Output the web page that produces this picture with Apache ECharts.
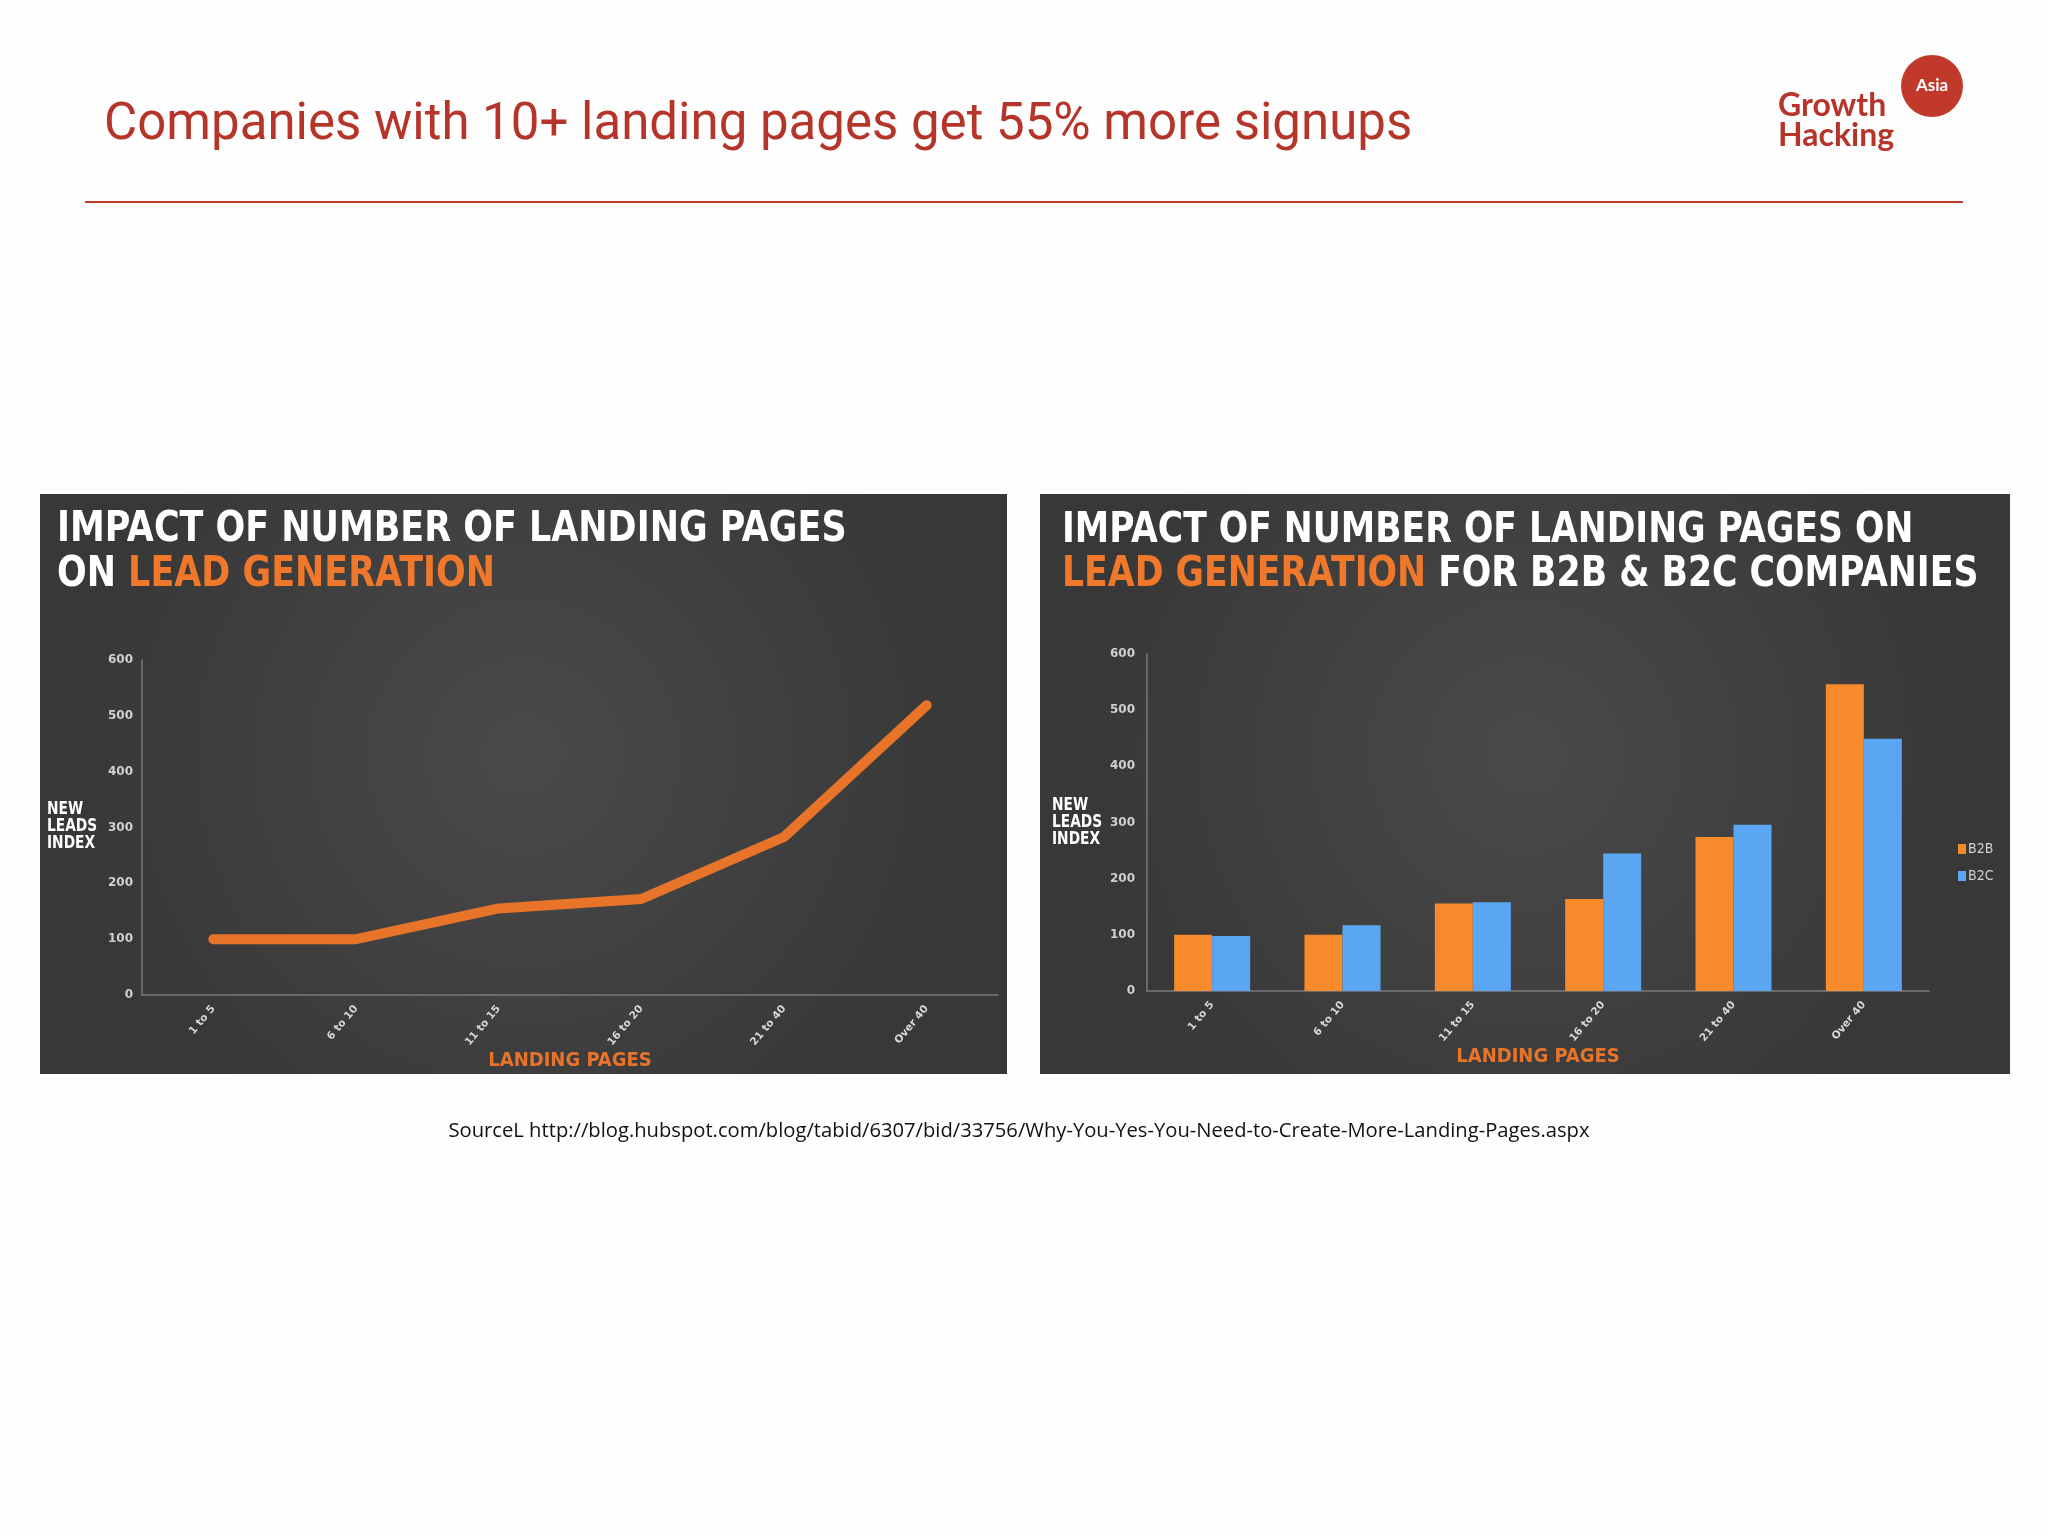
<!DOCTYPE html>
<html>
<head>
<meta charset="utf-8">
<script src="https://cdn.jsdelivr.net/npm/echarts@6/dist/echarts.min.js"></script>
<style>
html,body{margin:0;padding:0;background:#fefefe;}
#main{width:2048px;height:1536px;}
</style>
</head>
<body>
<div id="main"></div>
<script>
const categories = ['1 to 5', '6 to 10', '11 to 15', '16 to 20', '21 to 40', 'Over 40'];
const leadsIndex = [100, 100, 155, 172, 283, 519];
const b2bValues = [100, 100, 156, 164, 274, 546];
const b2cValues = [98, 117, 158, 245, 296, 449];
const yTicks = [0, 100, 200, 300, 400, 500, 600];

const chart = echarts.init(document.getElementById('main'));
const condensed = '"DejaVu Sans Condensed", "DejaVu Sans", sans-serif';
const panelFill = {
  type: 'radial', x: 0.5, y: 0.45, r: 0.75,
  colorStops: [{offset: 0, color: '#4a4a4a'}, {offset: 1, color: '#383838'}]
};
const axisCommon = {
  axisLine: {show: true, lineStyle: {color: '#7a7a7a', width: 1.5}},
  axisTick: {show: false},
  splitLine: {show: false}
};
function yAxis(gi, margin) {
  return Object.assign({}, axisCommon, {
    type: 'value', gridIndex: gi, min: yTicks[0], max: yTicks[yTicks.length - 1], interval: yTicks[1] - yTicks[0],
    axisLabel: {color: '#d0d0d0', fontSize: 12, fontWeight: 'bold', fontFamily: 'DejaVu Sans', margin: margin},
  });
}
function xAxis(gi, gap) {
  return Object.assign({}, axisCommon, {
    type: 'category', gridIndex: gi, data: categories, boundaryGap: true,
    axisLabel: {color: '#d8d8d8', fontSize: 10.5, fontWeight: 'bold', fontFamily: 'DejaVu Sans', rotate: 50, margin: 12, interval: 0},
    name: 'LANDING PAGES', nameLocation: 'middle', nameGap: gap,
    nameTextStyle: {color: '#e8742a', fontSize: 20, fontWeight: 'bold', fontFamily: condensed}
  });
}
const titleFont = 'bold 42px ' + condensed;
const option = {
  animation: false,
  backgroundColor: '#fefefe',
  grid: [
    {left: 142, top: 660, width: 856, height: 335},
    {left: 1147, top: 654, width: 782, height: 337}
  ],
  xAxis: [xAxis(0, 55), xAxis(1, 52)],
  yAxis: [yAxis(0, 9), yAxis(1, 12)],
  legend: {
    data: ['B2B', 'B2C'], orient: 'vertical', left: 1953, top: 837,
    itemWidth: 8, itemHeight: 10, itemGap: 13, icon: 'rect',
    textStyle: {color: '#d0d0d0', fontSize: 14, fontFamily: condensed, padding: [0, 0, 0, -3]}
  },
  series: [
    {type: 'line', name: 'Leads', xAxisIndex: 0, yAxisIndex: 0, data: leadsIndex,
     showSymbol: false, lineStyle: {color: '#e8742a', width: 10, cap: 'round', join: 'round'},
     itemStyle: {color: '#e8742a'}},
    {type: 'bar', name: 'B2B', xAxisIndex: 1, yAxisIndex: 1, data: b2bValues,
     itemStyle: {color: '#f78b2b'}, barWidth: 38, barGap: '0%'},
    {type: 'bar', name: 'B2C', xAxisIndex: 1, yAxisIndex: 1, data: b2cValues,
     itemStyle: {color: '#5aa6f2'}, barWidth: 38, barGap: '0%'}
  ],
  graphic: [
    {type: 'rect', z: -10, shape: {x: 40, y: 494, width: 967, height: 580}, style: {fill: panelFill}},
    {type: 'rect', z: -10, shape: {x: 1040, y: 494, width: 970, height: 580}, style: {fill: panelFill}},
    {type: 'text', z: 10, x: 104, y: 126, style: {text: 'Companies with 10+ landing pages get 55% more signups', fill: '#b5352a', font: '51px Roboto', textVerticalAlign: 'middle'}},
    {type: 'rect', z: 10, shape: {x: 85, y: 201, width: 1878, height: 2}, style: {fill: '#c0392b'}},
    {type: 'circle', z: 10, shape: {cx: 1932, cy: 86, r: 31}, style: {fill: '#c0392b'}},
    {type: 'text', z: 11, x: 1932, y: 86, style: {text: 'Asia', fill: '#fff', font: 'bold 17px Lato', textAlign: 'center', textVerticalAlign: 'middle'}},
    {type: 'text', z: 11, x: 1778, y: 106, style: {text: 'Growth', fill: '#b5352a', font: 'bold 32px Lato', textVerticalAlign: 'middle'}},
    {type: 'text', z: 11, x: 1778, y: 136, style: {text: 'Hacking', fill: '#b5352a', font: 'bold 32px Lato', textVerticalAlign: 'middle'}},
    {type: 'text', z: 10, x: 57, y: 530, scaleX: 0.925, style: {text: 'IMPACT OF NUMBER OF LANDING PAGES', fill: '#ffffff', font: titleFont, textVerticalAlign: 'middle'}},
    {type: 'text', z: 10, x: 57, y: 575, scaleX: 0.925, style: {text: '{w|ON }{o|LEAD GENERATION}', textVerticalAlign: 'middle',
      rich: {w: {fill: '#ffffff', font: titleFont}, o: {fill: '#f0782a', font: titleFont}}}},
    {type: 'text', z: 10, x: 1062, y: 531, scaleX: 0.915, style: {text: 'IMPACT OF NUMBER OF LANDING PAGES ON', fill: '#ffffff', font: titleFont, textVerticalAlign: 'middle'}},
    {type: 'text', z: 10, x: 1062, y: 575, scaleX: 0.918, style: {text: '{o|LEAD GENERATION}{w|\u00a0FOR B2B & B2C COMPANIES}', textVerticalAlign: 'middle',
      rich: {w: {fill: '#ffffff', font: titleFont}, o: {fill: '#f0782a', font: titleFont}}}},
    {type: 'text', z: 10, x: 47, y: 801, scaleX: 0.9, style: {text: 'NEW\nLEADS\nINDEX', fill: '#ffffff', font: 'bold 17px ' + condensed, lineHeight: 17}},
    {type: 'text', z: 10, x: 1052, y: 797, scaleX: 0.9, style: {text: 'NEW\nLEADS\nINDEX', fill: '#ffffff', font: 'bold 17px ' + condensed, lineHeight: 17}},
    {type: 'text', z: 10, x: 1019, y: 1131, style: {text: 'SourceL http://blog.hubspot.com/blog/tabid/6307/bid/33756/Why-You-Yes-You-Need-to-Create-More-Landing-Pages.aspx', fill: '#111', font: '20.2px "Open Sans"', textAlign: 'center', textVerticalAlign: 'middle'}}
  ]
};
chart.setOption(option);
</script>
</body>
</html>
